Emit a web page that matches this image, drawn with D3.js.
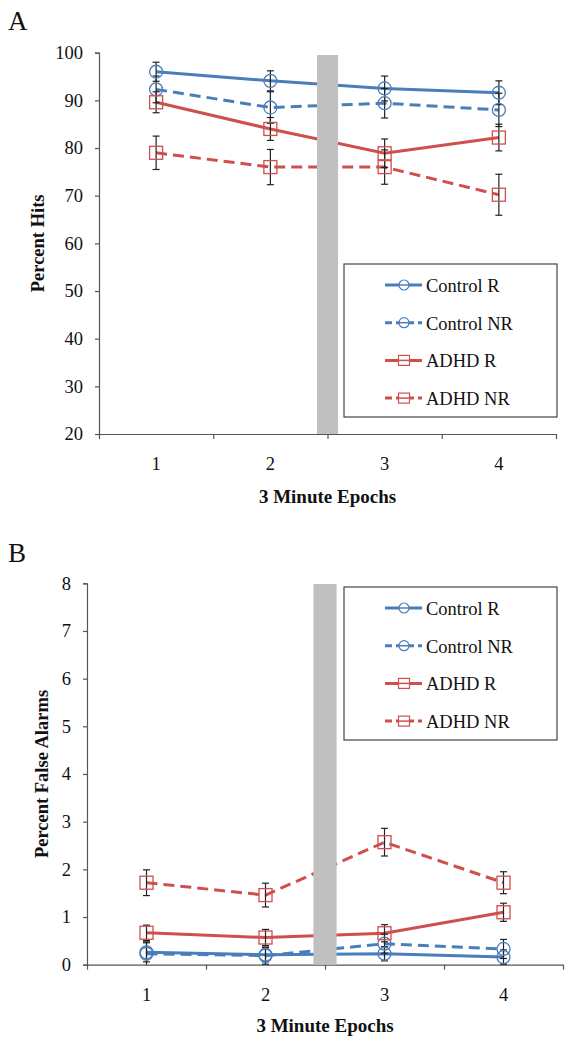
<!DOCTYPE html>
<html>
<head>
<meta charset="utf-8">
<script src="https://cdn.jsdelivr.net/npm/d3@7/dist/d3.min.js"></script>
<style>
  html, body { margin: 0; padding: 0; background: #fff; }
  svg { display: block; }
</style>
</head>
<body>
<svg id="chart" width="576" height="1047"></svg>
<script>
// ---------- DATA ----------
const epochs = ["1", "2", "3", "4"];
const seriesNames = ["Control R", "Control NR", "ADHD R", "ADHD NR"];

// Panel A: Percent Hits
const hitsControlR   = [96.0, 94.1, 92.5, 91.6];
const hitsControlNR  = [92.3, 88.5, 89.4, 88.0];
const hitsAdhdR      = [89.6, 84.0, 78.9, 82.2];
const hitsAdhdNR     = [79.0, 76.0, 76.0, 70.2];
const hitsErrControlR  = [2.0, 2.1, 2.6, 2.5];
const hitsErrControlNR = [2.8, 3.3, 3.1, 3.5];
const hitsErrAdhdR     = [2.2, 2.4, 3.0, 2.8];
const hitsErrAdhdNR    = [3.5, 3.7, 3.6, 4.3];
const hitsTicks = [20, 30, 40, 50, 60, 70, 80, 90, 100];

// Panel B: Percent False Alarms
const faControlR   = [0.26, 0.21, 0.23, 0.16];
const faControlNR  = [0.23, 0.19, 0.44, 0.33];
const faAdhdR      = [0.67, 0.57, 0.66, 1.10];
const faAdhdNR     = [1.72, 1.46, 2.57, 1.72];
const faErrControlR  = [0.20, 0.15, 0.15, 0.15];
const faErrControlNR = [0.25, 0.18, 0.20, 0.20];
const faErrAdhdR     = [0.16, 0.17, 0.18, 0.19];
const faErrAdhdNR    = [0.27, 0.25, 0.29, 0.23];
const faTicks = [0, 1, 2, 3, 4, 5, 6, 7, 8];

// ---------- STYLE ----------
const FONT = '"Liberation Serif", "Times New Roman", Tinos, serif';
const BLUE = "#4a7ebb";
const RED = "#cf4f4d";
const styles = [
  { color: BLUE, dash: null, marker: "circle" },
  { color: BLUE, dash: "11,6", marker: "circle" },
  { color: RED, dash: null, marker: "square" },
  { color: RED, dash: "11,6", marker: "square" }
];

const svg = d3.select("#chart");

function drawPanel(cfg) {
  const g = svg.append("g");
  const x = d3.scaleBand().domain(epochs).range([cfg.left, cfg.right]);
  const xb = d3.scaleLinear().domain([0, epochs.length]).range([cfg.left, cfg.right]);
  const y = d3.scaleLinear().domain(cfg.domain).range([cfg.bottom, cfg.top]);
  const cx = d => x(d) + x.bandwidth() / 2;

  // panel letter
  g.append("text").attr("x", 8).attr("y", cfg.letterY)
    .style("font-family", FONT).style("font-size", "27px").attr("fill", "#111").text(cfg.letter);

  // y axis
  const ya = g.append("g").attr("transform", `translate(${cfg.left},0)`)
    .call(d3.axisLeft(y).tickValues(cfg.ticks).tickSize(4).tickPadding(12).tickFormat(d3.format("d")));
  ya.select(".domain").attr("stroke", "#555").attr("stroke-width", 1.2);
  ya.selectAll(".tick line").attr("stroke", "#555").attr("stroke-width", 1.2);
  ya.selectAll(".tick text").style("font-size", "18.5px").style("font-family", FONT).attr("fill", "#111");

  // x axis: boundary ticks
  const xa = g.append("g").attr("transform", `translate(0,${cfg.bottom})`)
    .call(d3.axisBottom(xb).tickValues(d3.range(0, epochs.length + 1)).tickSize(5).tickSizeOuter(0).tickFormat(""));
  xa.select(".domain").attr("stroke", "#555").attr("stroke-width", 1.2);
  xa.selectAll(".tick line").attr("stroke", "#555").attr("stroke-width", 1.2);
  // category labels at band centres
  const xl = g.append("g").attr("transform", `translate(0,${cfg.bottom})`)
    .call(d3.axisBottom(x).tickSize(0).tickPadding(23));
  xl.select(".domain").remove();
  xl.selectAll(".tick text").style("font-size", "18.5px").style("font-family", FONT).attr("fill", "#111");

  // axis titles
  g.append("text")
    .attr("transform", `translate(${cfg.yTitleX},${(cfg.top + cfg.bottom) / 2}) rotate(-90)`)
    .attr("text-anchor", "middle").style("font-family", FONT).style("font-size", "18.5px").style("font-weight", "bold")
    .attr("fill", "#111").text(cfg.yTitle);
  g.append("text").attr("x", (cfg.left + cfg.right) / 2).attr("y", cfg.xTitleY)
    .attr("text-anchor", "middle").style("font-family", FONT).style("font-size", "19px").style("font-weight", "bold")
    .attr("fill", "#111").text("3 Minute Epochs");

  const line = d3.line().x((d, i) => cx(epochs[i])).y(d => y(d));

  // lines
  cfg.series.forEach((vals, s) => {
    g.append("path").datum(vals).attr("d", line)
      .attr("fill", "none").attr("stroke", styles[s].color).attr("stroke-width", 3)
      .attr("stroke-dasharray", styles[s].dash);
  });

  // error bars
  cfg.series.forEach((vals, s) => {
    const errs = cfg.errors[s];
    const eg = g.append("g").attr("stroke", "#222").attr("stroke-width", 1.2);
    vals.forEach((v, i) => {
      const px = cx(epochs[i]);
      const y1 = y(v + errs[i]), y0 = y(Math.max(cfg.domain[0], v - errs[i]));
      eg.append("line").attr("x1", px).attr("x2", px).attr("y1", y1).attr("y2", y0);
      eg.append("line").attr("x1", px - 3.5).attr("x2", px + 3.5).attr("y1", y1).attr("y2", y1);
      if (v - errs[i] > cfg.domain[0])
        eg.append("line").attr("x1", px - 3.5).attr("x2", px + 3.5).attr("y1", y0).attr("y2", y0);
    });
  });

  // markers
  cfg.series.forEach((vals, s) => {
    const st = styles[s];
    vals.forEach((v, i) => {
      const px = cx(epochs[i]), py = y(v);
      if (st.marker === "circle") {
        g.append("circle").attr("cx", px).attr("cy", py).attr("r", 6.5)
          .attr("fill", "none").attr("stroke", st.color).attr("stroke-width", 1.3);
      } else {
        g.append("rect").attr("x", px - 6.5).attr("y", py - 6.5).attr("width", 13).attr("height", 13)
          .attr("fill", "none").attr("stroke", st.color).attr("stroke-width", 1.3);
      }
    });
  });

  // grey break bar between epochs 2 and 3
  const bw = x.step() * cfg.barFrac;
  g.append("rect").attr("x", xb(2) - bw / 2).attr("y", cfg.barTop)
    .attr("width", bw).attr("height", cfg.bottom - cfg.barTop).attr("fill", "#c0c0c0");

  // legend
  const lg = g.append("g");
  lg.append("rect").attr("x", 344).attr("y", cfg.legTop).attr("width", 213).attr("height", 153)
    .attr("fill", "#fff").attr("stroke", "#444").attr("stroke-width", 1.2);
  seriesNames.forEach((name, s) => {
    const st = styles[s];
    const ly = cfg.legTop + 21 + s * 37.7;
    lg.append("line").attr("x1", 385).attr("x2", 422).attr("y1", ly).attr("y2", ly)
      .attr("stroke", st.color).attr("stroke-width", 3).attr("stroke-dasharray", st.dash ? "7,4" : null);
    if (st.marker === "circle") {
      lg.append("circle").attr("cx", 404).attr("cy", ly).attr("r", 5)
        .attr("fill", "#fff").attr("stroke", st.color).attr("stroke-width", 1.2);
      lg.append("line").attr("x1", 399).attr("x2", 409).attr("y1", ly).attr("y2", ly)
        .attr("stroke", st.color).attr("stroke-width", 1.5);
    } else {
      lg.append("rect").attr("x", 398.5).attr("y", ly - 5).attr("width", 11).attr("height", 10)
        .attr("fill", "#fff").attr("stroke", st.color).attr("stroke-width", 1.2);
      lg.append("line").attr("x1", 398.5).attr("x2", 409.5).attr("y1", ly).attr("y2", ly)
        .attr("stroke", st.color).attr("stroke-width", 1.5);
    }
    lg.append("text").attr("x", 426).attr("y", ly + 7)
      .style("font-family", FONT).style("font-size", "18.5px").attr("fill", "#111").text(name);
  });
}

drawPanel({
  letter: "A", letterY: 30,
  left: 99, right: 556, top: 52.7, bottom: 434,
  domain: [20, 100], ticks: hitsTicks,
  yTitle: "Percent Hits", yTitleX: 44, xTitleY: 503,
  series: [hitsControlR, hitsControlNR, hitsAdhdR, hitsAdhdNR],
  errors: [hitsErrControlR, hitsErrControlNR, hitsErrAdhdR, hitsErrAdhdNR],
  barTop: 55, barFrac: 0.185, legTop: 264
});

drawPanel({
  letter: "B", letterY: 562,
  left: 87, right: 563, top: 583.3, bottom: 964.7,
  domain: [0, 8], ticks: faTicks,
  yTitle: "Percent False Alarms", yTitleX: 48, xTitleY: 1032,
  series: [faControlR, faControlNR, faAdhdR, faAdhdNR],
  errors: [faErrControlR, faErrControlNR, faErrAdhdR, faErrAdhdNR],
  barTop: 584, barFrac: 0.195, legTop: 587
});
</script>
</body>
</html>
